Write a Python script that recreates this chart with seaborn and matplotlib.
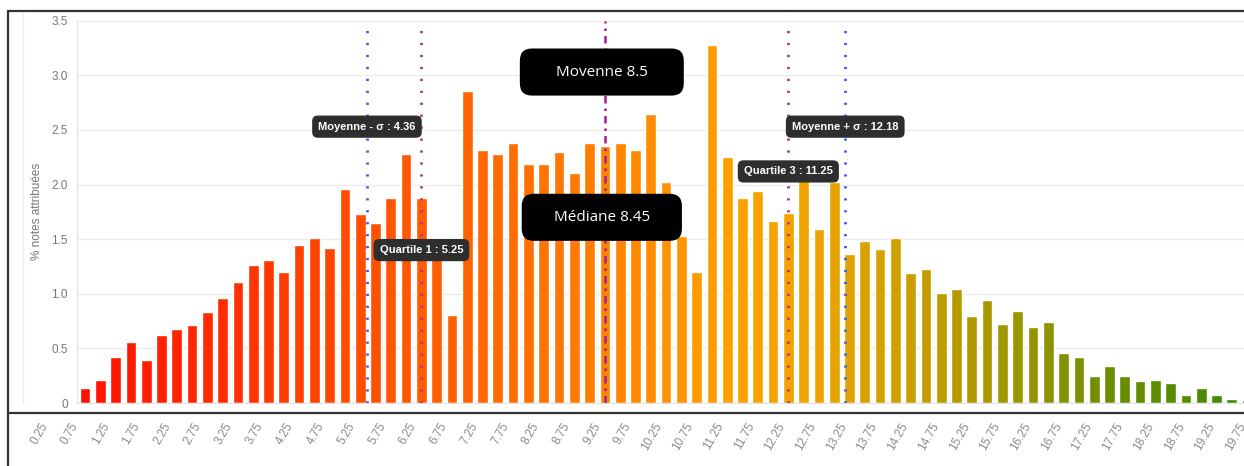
import numpy as np
import pandas as pd
import matplotlib
matplotlib.use("Agg")
import matplotlib.pyplot as plt
from matplotlib.colors import LinearSegmentedColormap
from matplotlib.lines import Line2D
import seaborn as sns

# grades (0.25 bins) shown in the chart and % of grades for each bin
notes = np.arange(0, 19.01, 0.25)
pct = [0.14, 0.21, 0.42, 0.56, 0.39, 0.62, 0.68, 0.71, 0.83, 0.96,
       1.11, 1.26, 1.31, 1.20, 1.45, 1.51, 1.42, 1.96, 1.73, 1.65,
       1.88, 2.28, 1.88, 1.45, 0.81, 2.86, 2.32, 2.28, 2.38, 2.19,
       2.19, 2.30, 2.11, 2.38, 2.35, 2.38, 2.32, 2.65, 2.02, 1.53,
       1.20, 3.28, 2.25, 1.88, 1.94, 1.67, 1.74, 2.05, 1.59, 2.02,
       1.36, 1.48, 1.41, 1.51, 1.19, 1.23, 1.01, 1.04, 0.80, 0.94,
       0.72, 0.84, 0.70, 0.74, 0.46, 0.42, 0.25, 0.34, 0.25, 0.20,
       0.21, 0.18, 0.07, 0.14, 0.07, 0.04, 0.03]

# summary stats drawn as vertical lines
stat_labels = ["Moyenne - σ : 4.36", "Quartile 1 : 5.25", "Quartile 3 : 11.25", "Moyenne + σ : 12.18"]
stat_values = [4.36, 5.25, 11.25, 12.18]
moyenne = 8.5
mediane = 8.45

# strip of tick labels under the chart
tick_notes = np.arange(0.25, 19.76, 0.5)

W, H = 1244, 466
sns.set_style("white")
plt.rcParams["font.family"] = ["Liberation Sans Narrow", "Liberation Sans", "DejaVu Sans"]

df = pd.DataFrame({"note": notes, "pct": pct})
df["label"] = df["note"].map(lambda v: f"{v:g}")

cmap = LinearSegmentedColormap.from_list("notes", [
    (0.0, "#ff1200"), (0.12, "#ff2e00"), (0.25, "#ff5200"), (0.4, "#ff7400"),
    (0.55, "#ffa000"), (0.62, "#f0a400"), (0.7, "#cfa000"), (0.78, "#a89800"),
    (0.88, "#6e8e00"), (1.0, "#3c8a00")])
colors = [cmap(i / (len(notes) - 1)) for i in range(len(notes))]
palette = dict(zip(df["label"], colors))

fig = plt.figure(figsize=(W / 100, H / 100), dpi=100)
ax = fig.add_axes([77 / W, (H - 403) / H, 1 - 77 / W, (403 - 20.7) / H])

sns.barplot(data=df, x="note", y="pct", hue="label", palette=palette,
            native_scale=True, dodge=False, legend=False, width=0.7,
            saturation=1, ax=ax, zorder=2)

ax.set_xlim(-0.131, 18.95)
ax.set_ylim(0, 3.5)
ax.set_xticks([])
ax.set_xlabel("")
yt = np.arange(0, 3.51, 0.5)
ax.set_yticks(yt)
ax.set_yticklabels(["0"] + [f"{v:.1f}" for v in yt[1:]])
ax.tick_params(axis="y", length=5, color="#e6e6e6", pad=1.5, labelsize=8.5, labelcolor="#777777")
ax.set_ylabel("% notes attribuées", fontsize=8.5, color="#777777", labelpad=6)
ax.yaxis.grid(True, color="#ebebeb", lw=1)
ax.set_axisbelow(True)
for s in ["top", "right"]:
    ax.spines[s].set_visible(False)
ax.spines["left"].set_color("#e3e3e3")
ax.spines["bottom"].set_color("#e3e3e3")

# annotation lines sit one bin to the right in the original chart
shift = 0.25
line_colors = ["#3a5cf0", "#b8308a", "#b8308a", "#3a5cf0"]
label_y = [2.53, 1.40, 2.12, 2.53]
for name, v, c, yy in zip(stat_labels, stat_values, line_colors, label_y):
    ax.axvline(v + shift, color=c, lw=2, ls=(0, (0.8, 3.5)), zorder=3)
    ax.text(v + shift, yy, name, ha="center", va="center", color="white",
            fontsize=8, fontweight="bold", zorder=5,
            bbox=dict(boxstyle="round,pad=0.55,rounding_size=0.5", fc="#2e2e2e", ec="none"))

ax.axvline(moyenne, color="#a0208e", lw=1.8, ls=(0, (3, 2, 1, 2)), zorder=3)
big = dict(ha="center", va="center", color="white", fontsize=11, zorder=6,
           family=["Open Sans", "DejaVu Sans"],
           bbox=dict(boxstyle="round,pad=1.05,rounding_size=0.8", fc="black", ec="none"))
ax.text(moyenne - 0.05, 3.03, "     Movenne 8.5     ", **big)
ax.text(mediane, 1.70, "    Médiane 8.45    ", **big)

# tick label strip (separate band below the chart)
sax = fig.add_axes([0, (H - 421) / H, 1, 0.001])
sax.set_xlim(0.25 - 45 / 61.46, 19.76)
sax.set_xticks(tick_notes)
sax.set_xticklabels([f"{v:.2f}" for v in tick_notes], rotation=60, ha="right",
                    va="center", rotation_mode="anchor", fontsize=8.5, color="#8a8a8a")
sax.tick_params(axis="x", length=0, pad=2)
sax.set_yticks([])
for s in sax.spines.values():
    s.set_visible(False)
sax.patch.set_alpha(0)

# frame of the screenshot
def fline(x0, y0, x1, y1, color="#333333", lw=1.6):
    fig.add_artist(Line2D([x0 / W, x1 / W], [1 - y0 / H, 1 - y1 / H],
                          transform=fig.transFigure, color=color, lw=lw))

fline(23, 12, 23, 403, color="#ececec", lw=1)
fline(8, 11, W, 11)
fline(8, 11, 8, H)
fline(8, 413, W, 413)

fig.savefig("out.png", dpi=100)
